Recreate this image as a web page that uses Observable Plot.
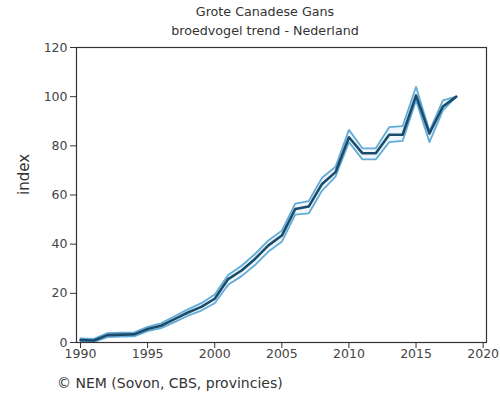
<!DOCTYPE html>
<html>
<head>
<meta charset="utf-8">
<script src="https://cdn.jsdelivr.net/npm/d3@7"></script>
<script src="https://cdn.jsdelivr.net/npm/@observablehq/plot@0.6"></script>
<style>
  html, body { margin: 0; padding: 0; background: #fff; }
  #wrap { position: relative; width: 500px; height: 401px; font-family: "DejaVu Sans", Verdana, sans-serif; }
  #head { position: absolute; left: 0; top: 2px; width: 530px; text-align: center; font-size: 12.7px; line-height: 19px; color: #333; }
  #chart { position: absolute; left: 0; top: 40px; }
  #cap { position: absolute; left: 57px; top: 375px; font-size: 14px; color: #333; }
</style>
</head>
<body>
<div id="wrap">
  <div id="head">Grote Canadese Gans<br>broedvogel trend - Nederland</div>
  <div id="chart"></div>
  <div id="cap">© NEM (Sovon, CBS, provincies)</div>
</div>
<script>
const years = [1990,1991,1992,1993,1994,1995,1996,1997,1998,1999,2000,2001,2002,2003,2004,2005,2006,2007,2008,2009,2010,2011,2012,2013,2014,2015,2016,2017,2018];
const indexValues = [1, 0.8, 3, 3.2, 3.3, 5.5, 6.8, 9.5, 12.2, 14.5, 17.8, 25.8, 29.3, 34, 39.5, 43.5, 54.3, 55.3, 64.5, 69.3, 83.5, 77, 77, 84.5, 84.5, 100.5, 85, 96, 100];
const lowerValues = [0.3, 0.2, 2.2, 2.4, 2.5, 4.6, 5.8, 8.3, 10.9, 13, 16, 23.5, 27, 31.5, 37, 41, 52, 52.5, 61.8, 67.5, 81.5, 74.5, 74.5, 81.5, 82, 98.5, 81.5, 94.4, 100];
const upperValues = [1.7, 1.5, 3.8, 4, 4.1, 6.4, 7.8, 10.7, 13.5, 16, 19.5, 27.5, 31.2, 36, 41.5, 45.5, 56.5, 57.5, 67, 71.5, 86.5, 79, 79, 87.6, 88, 104, 86, 98.5, 100];
const xTicks = [1990, 1995, 2000, 2005, 2010, 2015, 2020];
const yTicks = [0, 20, 40, 60, 80, 100, 120];
const yLabel = "index";

const data = years.map((year, i) => ({year, index: indexValues[i], lo: lowerValues[i], hi: upperValues[i]}));

const plot = Plot.plot({
  width: 500,
  height: 330,
  marginTop: 7,
  marginBottom: 28,
  marginLeft: 76,
  marginRight: 14,
  style: {fontFamily: "DejaVu Sans, Verdana, sans-serif", fontSize: "12.5px", color: "#444", background: "#fff"},
  x: {domain: [1989.7, 2020.25]},
  y: {domain: [0, 120]},
  marks: [
    Plot.areaY(data, {x: "year", y1: "lo", y2: "hi", fill: "#cfe5f2", fillOpacity: 0.35}),
    Plot.line(data, {x: "year", y: "lo", stroke: "#62acd8", strokeWidth: 1.8}),
    Plot.line(data, {x: "year", y: "hi", stroke: "#62acd8", strokeWidth: 1.8}),
    Plot.line(data, {x: "year", y: "index", stroke: "#1b4b6b", strokeWidth: 2.6}),
    Plot.frame({stroke: "#333", strokeWidth: 1.2}),
    Plot.axisX({ticks: xTicks, tickFormat: d => String(d), tickSize: 6, tickPadding: 1, label: null, stroke: "#333"}),
    Plot.axisY({ticks: yTicks, tickSize: 6, tickPadding: 3, label: null, stroke: "#333"}),
    Plot.text([yLabel], {frameAnchor: "left", dx: -52, rotate: -90, fontSize: 15, fill: "#333"})
  ]
});
document.getElementById("chart").appendChild(plot);
</script>
</body>
</html>
